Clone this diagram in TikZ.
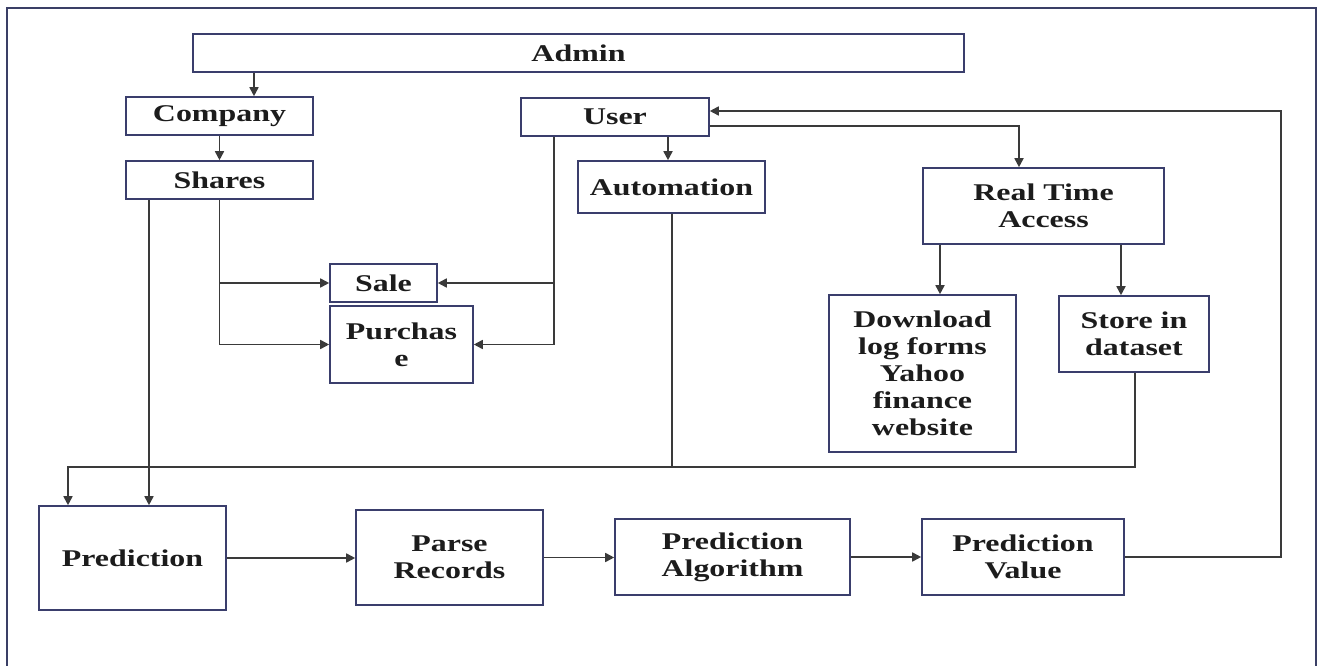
\documentclass[tikz,border=0pt]{standalone}
\usepackage{fontspec}
\newfontfamily\boxfont[FakeStretch=1.33]{Liberation Serif}
\usetikzlibrary{arrows.meta,calc}
\definecolor{boxline}{HTML}{3A3E6C}
\definecolor{frameline}{HTML}{3A3F66}
\definecolor{wire}{HTML}{3A3A3A}
\definecolor{ink}{HTML}{1C1C1C}
\begin{document}
\begin{tikzpicture}[x=1pt,y=-1pt,
  box/.style={draw=boxline, line width=1.6pt, fill=white, inner sep=0pt,
    align=center, text=ink, font=\boxfont\bfseries\fontsize{24}{27}\selectfont},
  wire/.style={draw=wire, line width=1.7pt},
  arr/.style={wire, -{Triangle[length=9pt,width=9pt]}}]
\useasboundingbox (0,0) rectangle (1318,666);
% open outer frame
\draw[frameline, line width=2pt] (7,670) -- (7,8) -- (1316,8) -- (1316,670);

% boxes
\node[box, minimum width=771pt, minimum height=38pt] (admin) at (578.5,53) {Admin};
\node[box, minimum width=187pt, minimum height=38pt] (company) at (219.5,116) {Company};
\node[box, minimum width=187pt, minimum height=38pt] (shares) at (219.5,180) {Shares};
\node[box, minimum width=107pt, minimum height=38pt] (sale) at (383.5,283) {Sale};
\node[box, minimum width=143pt, minimum height=77pt] (purchase) at (401.5,344.5) {Purchas\\e};
\node[box, minimum width=188pt, minimum height=38pt] (user) at (615,117) {User};
\node[box, minimum width=187pt, minimum height=52pt] (automation) at (671.5,187) {Automation};
\node[box, minimum width=241pt, minimum height=76pt] (rta) at (1043.5,206) {Real Time\\Access};
\node[box, minimum width=187pt, minimum height=157pt] (download) at (922.5,373.5) {Download\\log forms\\Yahoo\\finance\\website};
\node[box, minimum width=150pt, minimum height=76pt] (store) at (1134,334) {Store in\\dataset};
\node[box, minimum width=187pt, minimum height=104pt] (prediction) at (132.5,558) {Prediction};
\node[box, minimum width=187pt, minimum height=95pt] (parse) at (449.5,557.5) {Parse\\Records};
\node[box, minimum width=235pt, minimum height=76pt] (algo) at (732.5,557) {Prediction\\Algorithm};
\node[box, minimum width=202pt, minimum height=76pt] (value) at (1023,557) {Prediction\\Value};

% connector columns and rows
\coordinate (xadmin) at (254,0);
\coordinate (xshA) at (149,0);
\coordinate (xshB) at (219.5,0);
\coordinate (xuser) at (554,0);
\coordinate (xauto) at (668,0);
\coordinate (xautoD) at (672,0);
\coordinate (xrta) at (1019,0);
\coordinate (xdl) at (940,0);
\coordinate (xst) at (1121,0);
\coordinate (xstD) at (1135,0);
\coordinate (xpred) at (68,0);
\coordinate (xback) at (1281,0);
\coordinate (ybus) at (0,467);
\coordinate (yrta) at (0,126);
\coordinate (yback) at (0,111);

% admin and company
\draw[arr] (xadmin |- admin.south) -- (xadmin |- company.north);
\draw[arr] (company.south) -- (shares.north);

% shares to sale and purchase
\draw[arr] (xshB |- shares.south) |- (sale.west);
\draw[arr] (xshB |- sale.west) |- (purchase.west);

% user to sale and purchase
\draw[arr] (xuser |- user.south) |- (purchase.east);
\draw[arr] (xuser |- sale.east) -- (sale.east);

% user to automation and real time access
\draw[arr] (xauto |- user.south) -- (xauto |- automation.north);
\draw[arr] (user.east |- yrta) -| (xrta |- rta.north);

% real time access outputs
\draw[arr] (xdl |- rta.south) -- (xdl |- download.north);
\draw[arr] (xst |- rta.south) -- (xst |- store.north);

% common bus into prediction
\draw[arr] (xstD |- store.south) -- (xstD |- ybus) -- (xpred |- ybus) -- (xpred |- prediction.north);
\draw[wire] (xautoD |- automation.south) -- (xautoD |- ybus);
\draw[arr] (xshA |- shares.south) -- (xshA |- prediction.north);

% prediction pipeline
\draw[arr] (prediction.east) -- (prediction.east -| parse.west);
\draw[arr] (parse.east) -- (parse.east -| algo.west);
\draw[arr] (algo.east) -- (algo.east -| value.west);

% feedback to user
\draw[arr] (value.east) -- (xback |- value.east) -- (xback |- yback) -- (user.east |- yback);
\end{tikzpicture}
\end{document}
